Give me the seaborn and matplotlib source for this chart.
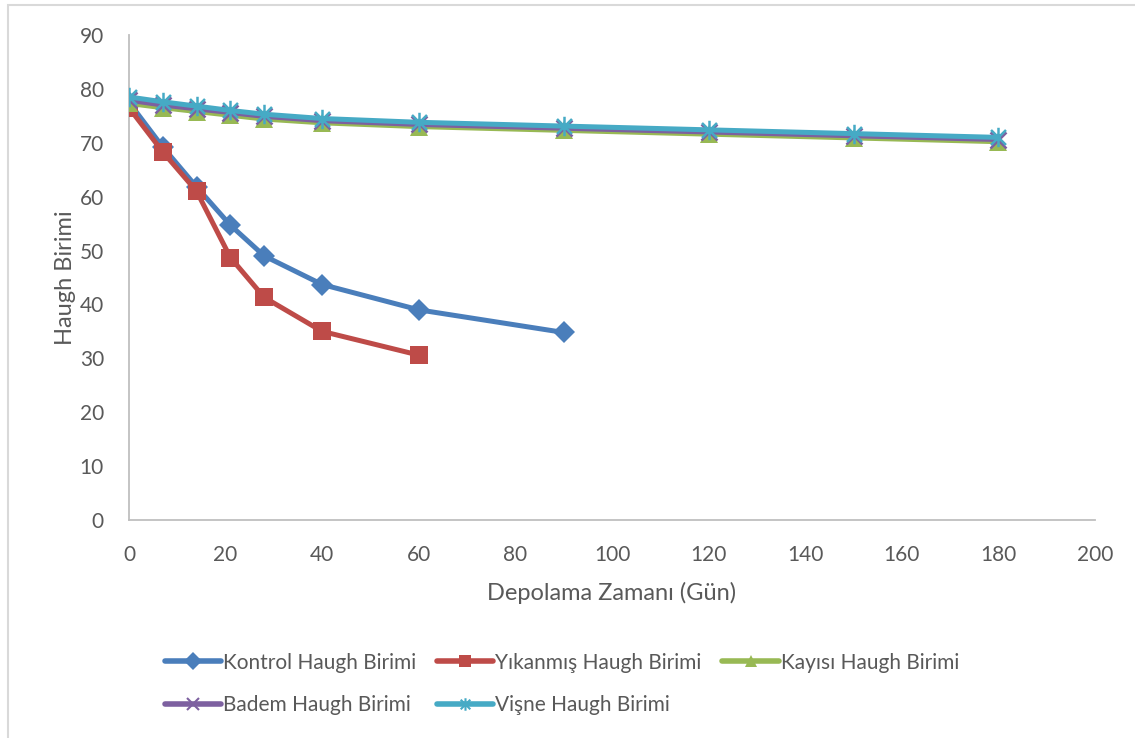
import numpy as np
import pandas as pd
import seaborn as sns
import matplotlib.pyplot as plt
from matplotlib.path import Path
from matplotlib.patches import Rectangle
from matplotlib.lines import Line2D

days = [0, 7, 14, 21, 28, 40, 60, 90, 120, 150, 180]
kontrol = [77.5, 69.2, 61.8, 54.7, 49.0, 43.7, 39.0, 34.8]
yikanmis = [76.5, 68.3, 61.0, 48.7, 41.3, 35.0, 30.6]
kayisi = [77.3, 76.5, 75.8, 75.1, 74.4, 73.7, 73.0, 72.3, 71.6, 70.9, 70.2]
badem = [77.9, 77.0, 76.3, 75.6, 74.9, 74.1, 73.4, 72.7, 72.0, 71.3, 70.6]
visne = [78.5, 77.6, 76.8, 76.0, 75.3, 74.5, 73.8, 73.1, 72.4, 71.7, 71.0]

series_names = ["Kontrol Haugh Birimi", "Yıkanmış Haugh Birimi", "Kayısı Haugh Birimi",
                "Badem Haugh Birimi", "Vişne Haugh Birimi"]
series_vals = [kontrol, yikanmis, kayisi, badem, visne]
colors = ["#4A7EBB", "#BE4B48", "#98B954", "#7D60A0", "#46AAC5"]

rows = []
for name, vals in zip(series_names, series_vals):
    for d, v in zip(days, vals):
        rows.append({"Gün": d, "Değer": v, "Seri": name})
df = pd.DataFrame(rows)

sns.set_theme(style="white")
plt.rcParams['font.family'] = ['Lato', 'DejaVu Sans']

# asterisk marker (x + vertical line)
star_path = Path(
    [(-1, -1), (1, 1), (-1, 1), (1, -1), (0, -1.3), (0, 1.3)],
    [Path.MOVETO, Path.LINETO, Path.MOVETO, Path.LINETO, Path.MOVETO, Path.LINETO])

fig = plt.figure(figsize=(11.35, 7.38), dpi=100)
ax = fig.add_axes([129/1135, 1 - 520/738, (1095-129)/1135, (520-35)/738])

markers = ["D", "s", "^", "x", star_path]
msizes = [11, 13, 13, 12, 14]
for i, name in enumerate(series_names):
    sub = df[df["Seri"] == name]
    sns.lineplot(data=sub, x="Gün", y="Değer", ax=ax, color=colors[i], lw=3.6,
                 marker=None, zorder=2 + i, legend=False)
    m = markers[i]
    if i >= 3:
        ax.plot(sub["Gün"], sub["Değer"], ls="none", marker=m, ms=msizes[i],
                mec=colors[i], mfc="none", mew=1.8, zorder=2 + i)
    else:
        ax.plot(sub["Gün"], sub["Değer"], ls="none", marker=m, ms=msizes[i],
                mec=colors[i], mfc=colors[i], mew=0, zorder=2 + i)

ax.set_xlim(0, 200)
ax.set_ylim(0, 90)
ax.set_xticks(range(0, 201, 20))
ax.set_yticks(range(0, 91, 10))
ax.tick_params(axis="both", length=0, labelsize=15, colors="#595959")
ax.tick_params(axis="x", pad=18)
ax.tick_params(axis="y", pad=18)
for s in ["top", "right"]:
    ax.spines[s].set_visible(False)
for s in ["left", "bottom"]:
    ax.spines[s].set_color("#BFBFBF")
    ax.spines[s].set_linewidth(1.3)
ax.set_xlabel("Depolama Zamanı (Gün)", fontsize=17, color="#595959", labelpad=12)
ax.set_ylabel("Haugh Birimi", fontsize=17, color="#595959", labelpad=3)

# legend handles (row-wise order: reorder for matplotlib's column filling)
handles = []
for i, name in enumerate(series_names):
    if i >= 3:
        h = Line2D([0], [0], color=colors[i], lw=4, marker=markers[i], ms=9,
                   mec=colors[i], mfc="none", mew=1.5)
    else:
        h = Line2D([0], [0], color=colors[i], lw=4, marker=markers[i], ms=9,
                   mec=colors[i], mfc=colors[i], mew=0)
    handles.append(h)
order = [0, 3, 1, 4, 2]
leg = fig.legend([handles[k] for k in order], [series_names[k] for k in order],
                 loc="center", bbox_to_anchor=(0.495, 1 - 684/738),
                 ncol=3, frameon=False, fontsize=15, handlelength=2.7, handletextpad=0.1,
                 columnspacing=1.0, labelspacing=1.1)
for t in leg.get_texts():
    t.set_color("#595959")

fig.patches.append(Rectangle((8/1135, -0.1), 1.2, 1.1 - 5/738, transform=fig.transFigure,
                             fill=False, edgecolor="#D9D9D9", lw=1.5))

fig.savefig("out.png", dpi=100)
